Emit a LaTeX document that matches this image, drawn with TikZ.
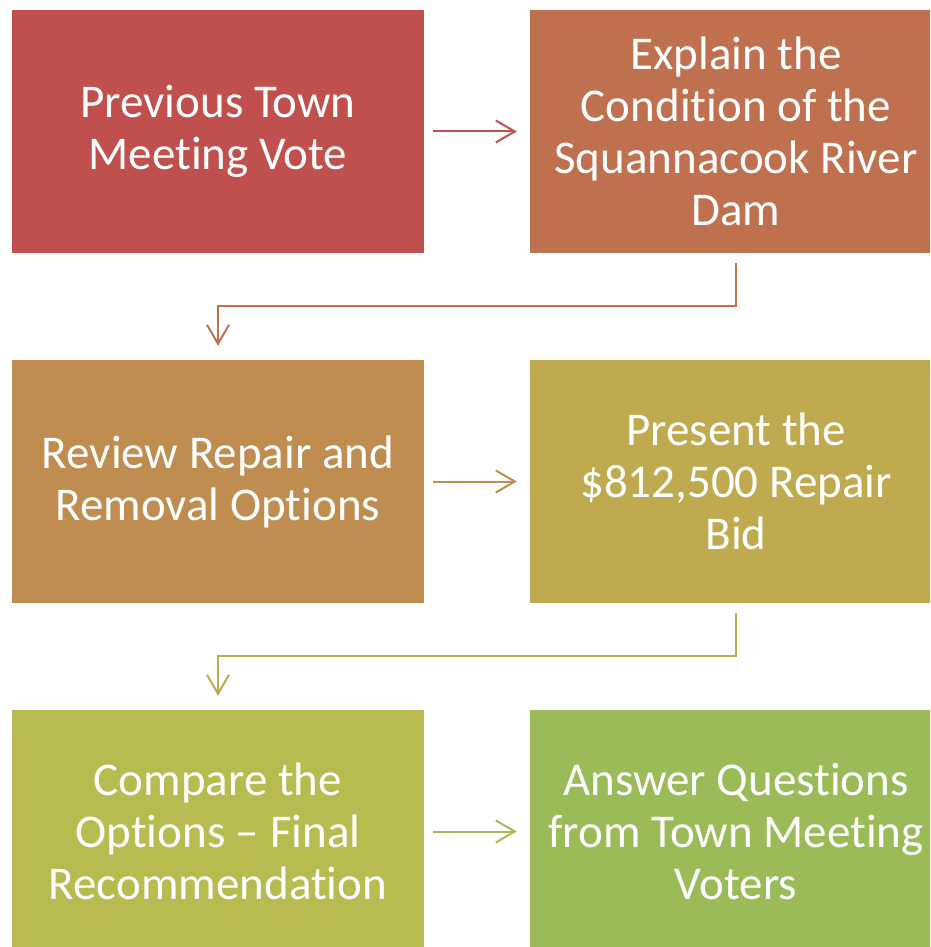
\documentclass[tikz,border=0pt]{standalone}
\usepackage{fontspec}
\setmainfont{Carlito}[Ligatures={NoCommon}]
\usetikzlibrary{arrows.meta}
\definecolor{cA}{HTML}{C0504D}
\definecolor{cB}{HTML}{BF704F}
\definecolor{cC}{HTML}{BF8D4F}
\definecolor{cD}{HTML}{BFAA4F}
\definecolor{cE}{HTML}{B7BB50}
\definecolor{cF}{HTML}{9BBB59}
\newcommand{\boxfont}{\fontsize{47}{52}\selectfont}
\tikzset{
  stepbox/.style={fill=#1, draw=none, minimum width=412pt, minimum height=243pt,
    inner sep=0pt, text width=405pt, align=flush center, text=white,
    font=\boxfont},
  arr/.style={draw=#1, line width=2pt, -{Straight Barb[length=19pt,width=22pt]}},
}
\begin{document}
\begin{tikzpicture}[x=1pt,y=-1pt]
\useasboundingbox (0,0) rectangle (930,947);
\clip (0,0) rectangle (930,947);
\fill[white] (0,0) rectangle (930,947);
\node[stepbox=cA] (b1) at (218,131.5) {Previous Town\\Meeting Vote};
\node[stepbox=cB] (b2) at (736,131.5) {Explain the\\Condition of the\\Squannacook River\\Dam};
\node[stepbox=cC] (b3) at (218,481.5) {Review Repair and\\Removal Options};
\node[stepbox=cD] (b4) at (736,481.5) {Present the\\\$812,500 Repair\\Bid};
\node[stepbox=cE] (b5) at (218,831.5) {Compare the\\Options -- Final\\Recommendation};
\node[stepbox=cF] (b6) at (736,831.5) {Answer Questions\\from Town Meeting\\Voters};
\draw[arr=cA] ([xshift=9pt]b1.east) -- ([xshift=-13pt]b2.west);
\draw[arr=cB] ([yshift=-10pt]b2.south) -- ++(0,43) -| ([yshift=14pt]b3.north);
\draw[arr=cC] ([xshift=9pt]b3.east) -- ([xshift=-13pt]b4.west);
\draw[arr=cD] ([yshift=-10pt]b4.south) -- ++(0,43) -| ([yshift=14pt]b5.north);
\draw[arr=cE!40!cF] ([xshift=9pt]b5.east) -- ([xshift=-13pt]b6.west);
\end{tikzpicture}
\end{document}
